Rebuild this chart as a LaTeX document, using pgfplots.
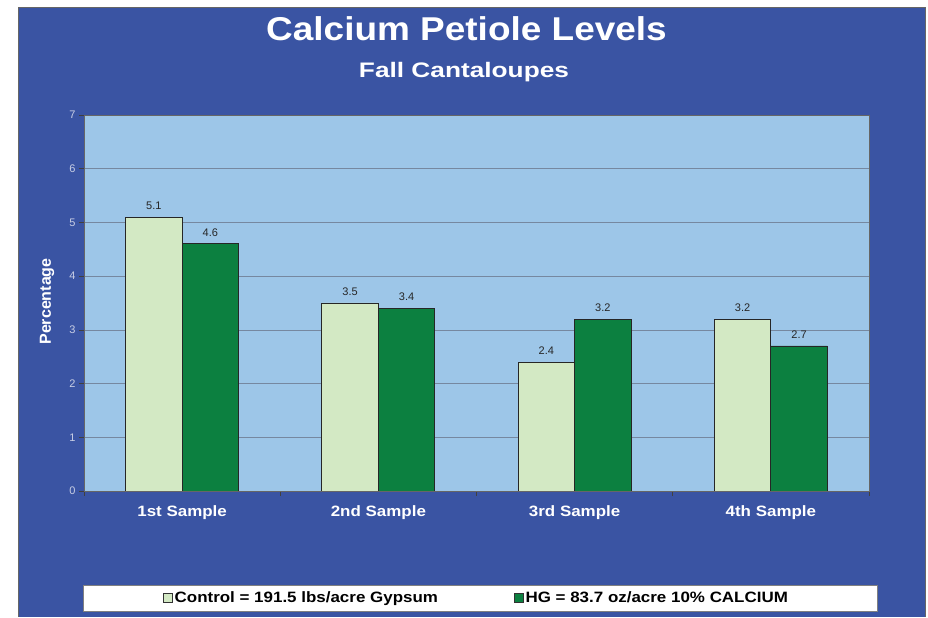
\documentclass[border=0pt]{standalone}
\usepackage{fontspec}
\setmainfont{Liberation Sans}
\usepackage{pgfplots}
\pgfplotsset{compat=1.18}
\definecolor{bgblue}{RGB}{58,84,163}
\definecolor{plotblue}{RGB}{157,198,232}
\definecolor{lightgreen}{RGB}{211,233,196}
\definecolor{darkgreen}{RGB}{12,128,64}
\definecolor{gridcol}{RGB}{118,136,160}
\definecolor{ticklab}{RGB}{200,206,228}
\begin{document}
\begin{tikzpicture}[x=1pt,y=1pt]
\fill[white] (0,0) rectangle (928,617);
\fill[bgblue] (18,0) rectangle (925,610);
\draw[black!60, line width=0.6pt] (18,0) -- (18,610) -- (925,610) -- (925,0);
\fill[white, draw=gray, line width=0.6pt] (83,6) rectangle (877,32);
\node[anchor=base, text=white, font=\bfseries\fontsize{33}{40}\selectfont] at (466.5,576) {\scalebox{1.12}[1]{Calcium Petiole Levels}};
\node[anchor=base, text=white, font=\bfseries\fontsize{21}{26}\selectfont] at (464,539) {\scalebox{1.25}[1]{Fall Cantaloupes}};
\node[rotate=90, text=white, font=\bfseries\fontsize{16}{19}\selectfont] at (47,315.5) {Percentage};
\begin{axis}[
  at={(84pt,126pt)}, anchor=south west,
  width=785pt, height=376pt, scale only axis,
  xmin=0, xmax=4, ymin=0, ymax=7,
  ybar=0pt, bar width=56.5pt,
  axis background/.style={fill=plotblue},
  axis line style={draw=gray!80!black, line width=0.7pt},
  ymajorgrids, grid style={gridcol, line width=0.6pt},
  ytick={0,1,...,7},
  xtick={0.5,1.5,2.5,3.5},
  xticklabels={{\scalebox{1.13}[1]{1st Sample}},{\scalebox{1.13}[1]{2nd Sample}},{\scalebox{1.13}[1]{3rd Sample}},{\scalebox{1.13}[1]{4th Sample}}},
  minor xtick={0,1,2,3,4},
  major x tick style={draw=none},
  tick align=outside, xtick pos=lower, ytick pos=left,
  major tick length=5pt, minor tick length=5pt,
  tick style={draw=gray!50!black, line width=0.7pt},
  /pgf/number format/assume math mode=true,
  yticklabel style={text=ticklab, font=\fontsize{11}{12}\selectfont, /pgf/number format/precision=0},
  xticklabel style={text=white, font=\bfseries\fontsize{15}{18}\selectfont, yshift=-6pt},
  nodes near coords,
  nodes near coords style={text=black!85, font=\fontsize{11}{12}\selectfont, anchor=south, yshift=4pt, /pgf/number format/.cd, fixed, fixed zerofill, precision=1},
  legend columns=2,
  legend style={at={(0.5,-0.2846)}, anchor=center, draw=none, fill=none,
    font=\bfseries\fontsize{15}{18}\selectfont, text=black,
    /tikz/every even column/.append style={column sep=74pt}},
  legend image code/.code={\draw[#1, draw=black!80, line width=0.6pt] (0pt,-4.5pt) rectangle (9pt,4.5pt);},
]
\addplot[fill=lightgreen, draw=black!85, line width=0.9pt] coordinates {(0.5,5.1) (1.5,3.5) (2.5,2.4) (3.5,3.2)};
\addplot[fill=darkgreen, draw=black!85, line width=0.9pt] coordinates {(0.5,4.6) (1.5,3.4) (2.5,3.2) (3.5,2.7)};
\addlegendentry{\scalebox{1.13}[1]{Control = 191.5 lbs/acre Gypsum}}
\addlegendentry{\scalebox{1.13}[1]{HG = 83.7 oz/acre 10\% CALCIUM}}
\end{axis}
\end{tikzpicture}
\end{document}
